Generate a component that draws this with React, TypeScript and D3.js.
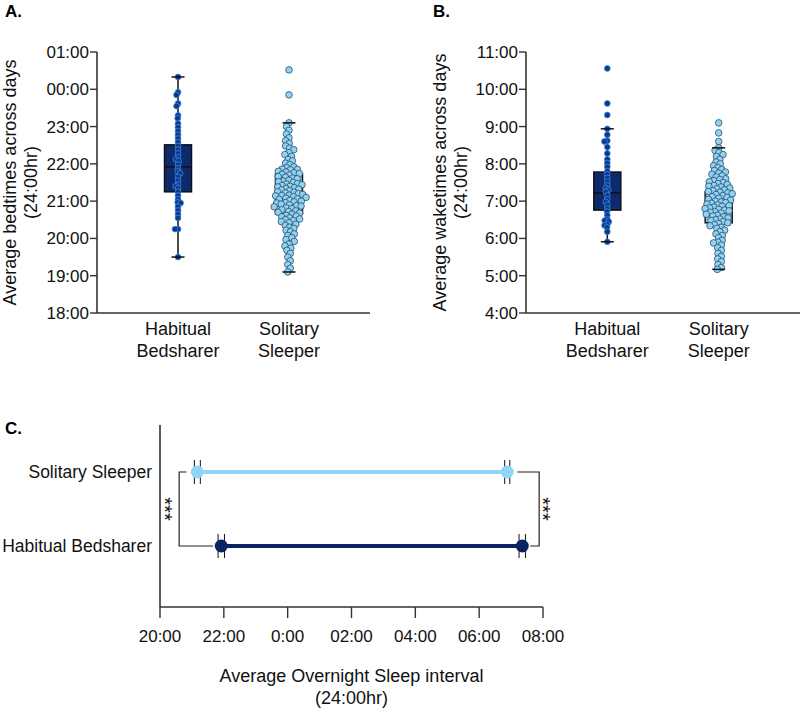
import React from 'react';
import * as d3 from 'd3';

const FONT = "'Liberation Sans', Arial, Helvetica, sans-serif";

// ---------- Data ----------
const groups = ['Habitual Bedsharer', 'Solitary Sleeper'];
const groupLines = [['Habitual', 'Bedsharer'], ['Solitary', 'Sleeper']];

// Panel A: bedtimes (hours, >24 = after midnight)
const habBed = [24.33, 23.92, 23.85, 23.62, 23.55, 23.3, 23.22, 23.08, 22.98, 22.88, 22.78, 22.68, 22.58, 22.48, 22.38, 22.28, 22.18, 22.12, 22.08, 21.98, 21.88, 21.8, 21.75, 21.65, 21.55, 21.45, 21.4, 21.35, 21.25, 21.15, 21.05, 20.97, 20.95, 20.85, 20.75, 20.65, 20.55, 20.25, 20.25, 19.5];
const solBed = [24.52, 23.85,
  23.1, 23.0, 22.9, 22.8, 22.7, 22.62, 22.55, 22.48,
  22.42, 22.38, 22.3, 22.25, 22.2, 22.12, 22.08, 22.02, 21.98, 21.92,
  21.9, 21.86, 21.84, 21.8, 21.78, 21.74, 21.72, 21.7, 21.66, 21.62,
  21.6, 21.56, 21.54, 21.5, 21.47, 21.44, 21.42, 21.4, 21.36, 21.34,
  21.3, 21.28, 21.25, 21.22, 21.2, 21.18, 21.16, 21.14, 21.12, 21.1,
  21.08, 21.05, 21.02, 21.0, 20.98, 20.95, 20.92, 20.9, 20.87, 20.85,
  20.82, 20.8, 20.77, 20.74, 20.7, 20.68, 20.65, 20.62, 20.58, 20.55,
  20.52, 20.48, 20.45, 20.42, 20.38, 20.35, 20.3, 20.27, 20.22, 20.18,
  20.12, 20.08, 20.02, 19.97, 19.92, 19.85, 19.8, 19.74, 19.68, 19.6,
  19.5, 19.4, 19.3, 19.2, 19.1,
  21.85, 21.76, 21.64, 21.52, 21.46, 21.38, 21.32, 21.24, 21.15, 21.06, 20.96, 20.88, 20.72, 20.6, 20.5];
// box stats: [whisker low, Q1, median, Q3, whisker high]
const habBedStats = [19.5, 21.25, 21.92, 22.51, 24.33];
const solBedStats = [19.1, 20.66, 21.2, 21.73, 23.1];
const bedTicks = [18, 19, 20, 21, 22, 23, 24, 25];

// Panel B: waketimes (hours)
const habWake = [10.56, 9.62, 9.31, 8.94, 8.78, 8.62, 8.6, 8.45, 8.28, 8.12, 8.02, 7.92, 7.8, 7.72, 7.62, 7.52, 7.42, 7.35, 7.3, 7.25, 7.15, 7.05, 6.98, 6.9, 6.8, 6.72, 6.62, 6.52, 6.48, 6.45, 6.38, 6.35, 6.3, 6.18, 5.91];
const solWake = [9.1, 8.83, 8.6,
  8.43, 8.36, 8.3, 8.25, 8.2, 8.12, 8.05, 8.0, 7.95, 7.9,
  7.85, 7.82, 7.78, 7.75, 7.72, 7.68, 7.65, 7.6, 7.58, 7.55,
  7.52, 7.5, 7.47, 7.45, 7.42, 7.4, 7.38, 7.35, 7.33, 7.3,
  7.28, 7.26, 7.24, 7.22, 7.2, 7.18, 7.15, 7.12, 7.1, 7.08,
  7.05, 7.03, 7.0, 6.98, 6.96, 6.94, 6.92, 6.9, 6.88, 6.86,
  6.84, 6.82, 6.8, 6.78, 6.76, 6.74, 6.72, 6.7, 6.68, 6.65,
  6.62, 6.6, 6.58, 6.55, 6.52, 6.5, 6.48, 6.45, 6.42, 6.4,
  6.37, 6.34, 6.3, 6.27, 6.22, 6.18, 6.12, 6.08, 6.02, 5.95,
  5.9, 5.88, 5.82, 5.75, 5.68, 5.6, 5.52, 5.45, 5.38, 5.3, 5.22, 5.17];
const habWakeStats = [5.91, 6.76, 7.22, 7.78, 8.94];
const solWakeStats = [5.17, 6.42, 6.85, 7.25, 8.43];
const wakeTicks = [4, 5, 6, 7, 8, 9, 10, 11];

// Panel C: mean sleep interval
const cGroups = ['Solitary Sleeper', 'Habitual Bedsharer'];
const cBed = [21.17, 21.92];
const cWake = [30.88, 31.35];
const cBedSem = [0.094, 0.1];
const cWakeSem = [0.08, 0.1];
const cTicks = [20, 22, 24, 26, 28, 30, 32];
const cTickLabels = ['20:00', '22:00', '0:00', '02:00', '04:00', '06:00', '08:00'];
const bracketX = [20.6, 31.88];

// ---------- Styles ----------
const HAB = { box: '#0c2a6c', dot: '#0b3a8c', dotStroke: '#3d86e0', r: 2.9, dist: 3.0 };
const SOL = { box: '#8fd3f4', dot: '#8fd3f4', dotStroke: '#2d4a66', r: 3.3, dist: 4.5 };
const C_COLORS = ['#92d4f6', '#0a2463'];

function swarm(values: number[], y: (v: number) => number, cx: number, dist: number) {
  const sorted = values.map(v => ({ v, py: y(v) })).sort((a, b) => a.py - b.py);
  const placed: { v: number; py: number; dx: number }[] = [];
  for (const p of sorted) {
    const intervals: [number, number][] = [];
    for (const q of placed) {
      const dy = Math.abs(q.py - p.py);
      if (dy < dist) {
        const w = Math.sqrt(dist * dist - dy * dy);
        intervals.push([q.dx - w, q.dx + w]);
      }
    }
    const cands = [0];
    intervals.forEach(([a, b]) => cands.push(a, b));
    cands.sort((a, b) => Math.abs(a) - Math.abs(b) || a - b);
    let best = 0;
    for (const c of cands) {
      if (intervals.every(([a, b]) => c <= a + 1e-6 || c >= b - 1e-6)) { best = c; break; }
    }
    placed.push({ ...p, dx: best });
  }
  return placed.map(p => ({ x: cx + p.dx, y: p.py }));
}

type PanelProps = {
  axisX: number; axisRight: number; domain: [number, number]; ticks: number[];
  fmt: (v: number) => string; data: number[][]; stats: number[][];
  yLabel: string; labelX: number; letter: string; letterX: number;
};

function BoxPanel(p: PanelProps) {
  const y = d3.scaleLinear().domain(p.domain).range([313, 52]);
  const x = d3.scalePoint<string>().domain(groups).range([p.axisX, p.axisRight]).padding(0.73);
  const styles = [HAB, SOL];
  const boxW = 27, capW = 13;
  const yMid = (52 + 313) / 2;
  return (
    <g>
      <text x={p.letterX} y={17} fontFamily={FONT} fontWeight="bold" fontSize={17}>{p.letter}</text>
      <line x1={p.axisX} x2={p.axisX} y1={y(p.domain[1])} y2={y(p.domain[0])} stroke="#333" strokeWidth={1.6} />
      <line x1={p.axisX} x2={p.axisRight} y1={y(p.domain[0])} y2={y(p.domain[0])} stroke="#333" strokeWidth={1.6} />
      {p.ticks.map(t => (
        <g key={t}>
          <line x1={p.axisX - 7} x2={p.axisX} y1={y(t)} y2={y(t)} stroke="#333" strokeWidth={1.4} />
          <text x={p.axisX - 8} y={y(t) + 6} textAnchor="end" fontFamily={FONT} fontSize={17} fill="#111">{p.fmt(t)}</text>
        </g>
      ))}
      {groups.map((g, i) => (
        <text key={g} x={x(g)} textAnchor="middle" fontFamily={FONT} fontSize={18} fill="#111">
          <tspan x={x(g)} y={335}>{groupLines[i][0]}</tspan>
          <tspan x={x(g)} y={357}>{groupLines[i][1]}</tspan>
        </text>
      ))}
      <text transform={`translate(${p.labelX},${yMid}) rotate(-90)`} textAnchor="middle" fontFamily={FONT} fontSize={18} fill="#111">
        <tspan x={0} y={0}>{p.yLabel}</tspan>
        <tspan x={0} y={21}>(24:00hr)</tspan>
      </text>
      {groups.map((g, i) => {
        const cx = x(g) as number;
        const [lo, q1, med, q3, hi] = p.stats[i];
        const st = styles[i];
        const pts = swarm(p.data[i], y, cx, st.dist);
        return (
          <g key={g}>
            <line x1={cx} x2={cx} y1={y(hi)} y2={y(q3)} stroke="#111" strokeWidth={1.5} />
            <line x1={cx} x2={cx} y1={y(q1)} y2={y(lo)} stroke="#111" strokeWidth={1.5} />
            <rect x={cx - boxW / 2} width={boxW} y={y(q3)} height={y(q1) - y(q3)} fill={st.box} stroke="#111" strokeWidth={1.5} />
            <line x1={cx - boxW / 2} x2={cx + boxW / 2} y1={y(med)} y2={y(med)} stroke="#111" strokeWidth={1.5} />
            {pts.map((d, k) => (
              <circle key={k} cx={d.x} cy={d.y} r={st.r} fill={st.dot} stroke={st.dotStroke} strokeWidth={0.8} />
            ))}
            <line x1={cx - capW / 2} x2={cx + capW / 2} y1={y(hi)} y2={y(hi)} stroke="#111" strokeWidth={1.5} />
            <line x1={cx - capW / 2} x2={cx + capW / 2} y1={y(lo)} y2={y(lo)} stroke="#111" strokeWidth={1.5} />
          </g>
        );
      })}
    </g>
  );
}

function PanelC() {
  const x = d3.scaleLinear().domain([20, 32]).range([160, 543]);
  const y = d3.scalePoint<string>().domain(cGroups).range([472, 546]);
  const axisTop = 425, axisBottom = 607;
  const capH = 12;
  const y0 = y(cGroups[0]) as number, y1 = y(cGroups[1]) as number;
  const midY = (y0 + y1) / 2;
  return (
    <g>
      <text x={5} y={434} fontFamily={FONT} fontWeight="bold" fontSize={17}>C.</text>
      <line x1={x(20)} x2={x(20)} y1={axisTop} y2={axisBottom} stroke="#333" strokeWidth={1.6} />
      <line x1={x(20)} x2={x(32)} y1={axisBottom} y2={axisBottom} stroke="#333" strokeWidth={1.6} />
      {cTicks.map((t, i) => (
        <g key={t}>
          <line x1={x(t)} x2={x(t)} y1={axisBottom} y2={axisBottom + 11} stroke="#333" strokeWidth={1.4} />
          <text x={x(t)} y={642} textAnchor="middle" fontFamily={FONT} fontSize={17} fill="#111">{cTickLabels[i]}</text>
        </g>
      ))}
      <text x={(x(20) + x(32)) / 2} textAnchor="middle" fontFamily={FONT} fontSize={18} fill="#111">
        <tspan x={(x(20) + x(32)) / 2} y={682}>Average Overnight Sleep interval</tspan>
        <tspan x={(x(20) + x(32)) / 2} y={704}>(24:00hr)</tspan>
      </text>
      {cGroups.map(g => (
        <text key={g} x={152} y={(y(g) as number) + 6} textAnchor="end" fontFamily={FONT} fontSize={17.5} fill="#111">{g}</text>
      ))}
      <path d={`M${x(cBed[0]) - 11},${y0} H${x(bracketX[0])} V${y1} H${x(cBed[1]) - 8}`} fill="none" stroke="#222" strokeWidth={1.2} />
      <path d={`M${x(cWake[0]) + 10},${y0} H${x(bracketX[1])} V${y1} H${x(cWake[1]) + 8}`} fill="none" stroke="#222" strokeWidth={1.2} />
      <text transform={`translate(${x(bracketX[0]) - 21},${midY}) rotate(90)`} textAnchor="middle" fontFamily={FONT} fontSize={20} fill="#111">***</text>
      <text transform={`translate(${x(bracketX[1]) - 3},${midY}) rotate(90)`} textAnchor="middle" fontFamily={FONT} fontSize={20} fill="#111">***</text>
      {cGroups.map((g, i) => {
        const cy = y(g) as number;
        const caps = [cBed[i] - cBedSem[i], cBed[i] + cBedSem[i], cWake[i] - cWakeSem[i], cWake[i] + cWakeSem[i]];
        return (
          <g key={g}>
            <line x1={x(cBed[i])} x2={x(cWake[i])} y1={cy} y2={cy} stroke={C_COLORS[i]} strokeWidth={4} />
            {caps.map((c, k) => (
              <line key={k} x1={x(c)} x2={x(c)} y1={cy - capH} y2={cy + capH} stroke="#111" strokeWidth={1} />
            ))}
            <circle cx={x(cBed[i])} cy={cy} r={6.5} fill={C_COLORS[i]} />
            <circle cx={x(cWake[i])} cy={cy} r={6.5} fill={C_COLORS[i]} />
          </g>
        );
      })}
    </g>
  );
}

const pad2 = (v: number) => String(v % 24).padStart(2, '0') + ':00';
const plain = (v: number) => `${v}:00`;

export default function App() {
  return (
    <svg width={800} height={709} style={{ position: 'absolute', left: 0, top: 0, background: '#fff' }}>
      <rect width={800} height={709} fill="#fff" />
      <BoxPanel axisX={97} axisRight={370} domain={[18, 25]} ticks={bedTicks} fmt={pad2}
        data={[habBed, solBed]} stats={[habBedStats, solBedStats]}
        yLabel="Average bedtimes across days" labelX={16} letter="A." letterX={5} />
      <BoxPanel axisX={526} axisRight={800} domain={[4, 11]} ticks={wakeTicks} fmt={plain}
        data={[habWake, solWake]} stats={[habWakeStats, solWakeStats]}
        yLabel="Average waketimes across days" labelX={446} letter="B." letterX={433} />
      <PanelC />
    </svg>
  );
}
